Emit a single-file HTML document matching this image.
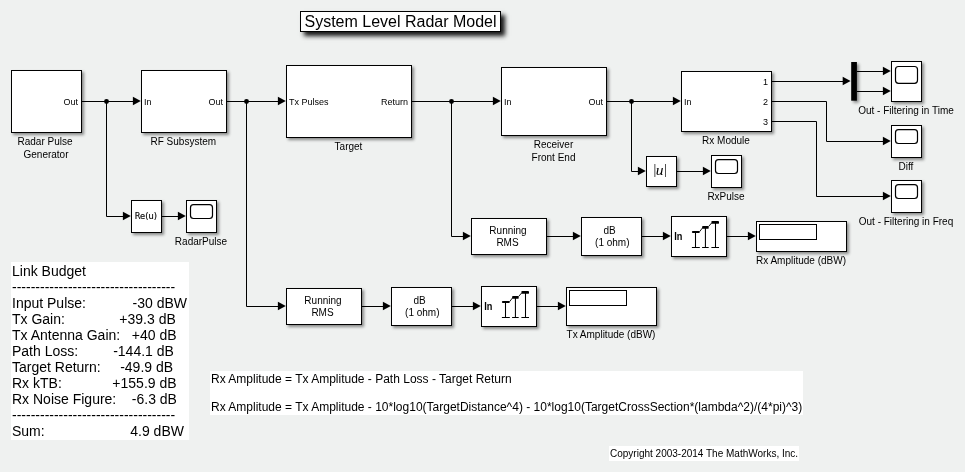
<!DOCTYPE html>
<html lang="en"><head><meta charset="utf-8"><title>System Level Radar Model</title>
<style>
html,body{margin:0;padding:0;}
body{width:965px;height:472px;background:#eff1f0;overflow:hidden;position:relative;font-family:"Liberation Sans",Arial,sans-serif;color:#000;}
svg{position:absolute;left:0;top:0;}
.b{fill:#fff;stroke:#000;stroke-width:1;}
.inner{fill:#fff;stroke:#000;stroke-width:1;}
.scr{fill:#fff;stroke:#000;stroke-width:1.2;}
.ln{fill:none;stroke:#000;stroke-width:1;}
.ah{fill:#000;stroke:none;}
.dot{fill:#000;}
.ic{fill:none;stroke:#000;stroke-width:1.05;}
.cap{fill:#000;}
.dg{fill:none;stroke:#000;stroke-width:.9;}
.ic2{fill:none;stroke:#000;stroke-width:2.3;stroke-linecap:round;}
text{font-family:"Liberation Sans",Arial,sans-serif;fill:#000;}
.lb{font-size:10px;}
.pt{font-size:9px;}
.pb{font-size:10.8px;font-weight:bold;}
.dj{font-family:"DejaVu Sans","Liberation Sans",sans-serif;font-size:8.3px;stroke:#000;stroke-width:.15px;}
.abs{font-family:"Liberation Serif",serif;font-size:15.5px;}
.bar{font-family:"Liberation Serif",serif;font-size:14px;}
#title{position:absolute;left:300px;top:11px;width:199px;height:19px;border:1px solid #000;background:#fff;box-shadow:3.5px 3.5px 4.5px 0 rgba(0,0,0,.9);font-size:16px;line-height:19px;text-align:center;color:#000;white-space:nowrap;}
#lb{position:absolute;left:11px;top:262px;width:178px;height:178px;background:#fff;font-size:14px;line-height:16px;white-space:pre;color:#000;box-sizing:border-box;padding:1px 0 0 1px;}
#eq{position:absolute;left:210px;top:371px;width:593px;height:44px;background:#fff;font-size:12px;line-height:14px;white-space:pre;box-sizing:border-box;padding:1px 0 0 1px;color:#000;}
#cp{position:absolute;left:609px;top:446px;width:190px;height:15px;background:#fff;font-size:10px;line-height:15px;white-space:nowrap;box-sizing:border-box;padding-left:1px;color:#000;}
#wrap{position:absolute;left:0;top:0;width:965px;height:472px;will-change:transform;}
</style></head><body><div id="wrap">
<svg width="965" height="472" viewBox="0 0 965 472">
<defs><filter id="sh" x="-10%" y="-10%" width="130%" height="140%"><feDropShadow dx="2" dy="2" stdDeviation="1.7" flood-color="#000" flood-opacity="0.43"/></filter></defs>
<path class="ln" d="M81.5 101.5L137.5 101.5"/>
<path class="ah" d="M140.8 101.05L132.9 96.85L132.9 105.25Z"/>
<path class="ln" d="M226.5 101.5L282.5 101.5"/>
<path class="ah" d="M285.8 101.05L277.90000000000003 96.85L277.90000000000003 105.25Z"/>
<path class="ln" d="M411.5 101.5L497.5 101.5"/>
<path class="ah" d="M500.8 101.05L492.90000000000003 96.85L492.90000000000003 105.25Z"/>
<path class="ln" d="M606.5 101.5L677.5 101.5"/>
<path class="ah" d="M680.8 101.05L672.9 96.85L672.9 105.25Z"/>
<path class="ln" d="M106.5 101.5L106.5 216.5L127.5 216.5"/>
<path class="ah" d="M130.8 216.05L122.9 211.85000000000002L122.9 220.25Z"/>
<path class="ln" d="M246.5 101.5L246.5 306.5L282.5 306.5"/>
<path class="ah" d="M285.8 306.05L277.90000000000003 301.85L277.90000000000003 310.25Z"/>
<path class="ln" d="M451.5 101.5L451.5 236.5L467.5 236.5"/>
<path class="ah" d="M470.8 236.05L462.90000000000003 231.85000000000002L462.90000000000003 240.25Z"/>
<path class="ln" d="M631.5 101.5L631.5 171.5L642.5 171.5"/>
<path class="ah" d="M645.8 171.05L637.9 166.85000000000002L637.9 175.25Z"/>
<circle class="dot" cx="106.5" cy="101.5" r="2.45"/>
<circle class="dot" cx="246.5" cy="101.5" r="2.45"/>
<circle class="dot" cx="451.5" cy="101.5" r="2.45"/>
<circle class="dot" cx="631.5" cy="101.5" r="2.45"/>
<path class="ln" d="M161.5 216.5L182.5 216.5"/>
<path class="ah" d="M185.8 216.05L177.9 211.85000000000002L177.9 220.25Z"/>
<path class="ln" d="M676.5 171.5L707.5 171.5"/>
<path class="ah" d="M710.8 171.05L702.9 166.85000000000002L702.9 175.25Z"/>
<path class="ln" d="M546.5 236.5L577.5 236.5"/>
<path class="ah" d="M580.8 236.05L572.9 231.85000000000002L572.9 240.25Z"/>
<path class="ln" d="M641.5 236.5L667.5 236.5"/>
<path class="ah" d="M670.8 236.05L662.9 231.85000000000002L662.9 240.25Z"/>
<path class="ln" d="M726.5 236.5L752.5 236.5"/>
<path class="ah" d="M755.8 236.05L747.9 231.85000000000002L747.9 240.25Z"/>
<path class="ln" d="M361.5 306.5L387.5 306.5"/>
<path class="ah" d="M390.8 306.05L382.90000000000003 301.85L382.90000000000003 310.25Z"/>
<path class="ln" d="M451.5 306.5L477.5 306.5"/>
<path class="ah" d="M480.8 306.05L472.90000000000003 301.85L472.90000000000003 310.25Z"/>
<path class="ln" d="M536.5 306.5L562.5 306.5"/>
<path class="ah" d="M565.8 306.05L557.9 301.85L557.9 310.25Z"/>
<path class="ln" d="M771.5 81.5L847.3 81.5"/>
<path class="ah" d="M850.5999999999999 81.05L842.6999999999999 76.85L842.6999999999999 85.25Z"/>
<path class="ln" d="M857 71.5L887.5 71.5"/>
<path class="ah" d="M890.8 71.05L882.9 66.85L882.9 75.25Z"/>
<path class="ln" d="M857 91.5L887.5 91.5"/>
<path class="ah" d="M890.8 91.05L882.9 86.85L882.9 95.25Z"/>
<path class="ln" d="M771.5 101.5L826.5 101.5L826.5 141.5L887.5 141.5"/>
<path class="ah" d="M890.8 141.05L882.9 136.85000000000002L882.9 145.25Z"/>
<path class="ln" d="M771.5 121.5L816.5 121.5L816.5 196.5L887.5 196.5"/>
<path class="ah" d="M890.8 196.05L882.9 191.85000000000002L882.9 200.25Z"/>
<g filter="url(#sh)">
<rect class="b" x="11.5" y="70.5" width="70.0" height="62.0"/>
<rect class="b" x="141.5" y="70.5" width="85.0" height="62.0"/>
<rect class="b" x="286.5" y="65.5" width="125.0" height="72.0"/>
<rect class="b" x="501.5" y="67.5" width="105.0" height="68.0"/>
<rect class="b" x="681.5" y="71.5" width="90.0" height="60.0"/>
<rect class="b" x="131.5" y="200.5" width="30.0" height="32.0"/>
<rect class="b" x="186.5" y="200.5" width="30.0" height="32.0"/>
<rect class="b" x="646.5" y="156.5" width="30.0" height="30.0"/>
<rect class="b" x="711.5" y="155.5" width="30.0" height="32.0"/>
<rect class="b" x="891.5" y="61.5" width="30.0" height="40.0"/>
<rect class="b" x="891.5" y="125.5" width="30.0" height="32.0"/>
<rect class="b" x="891.5" y="180.5" width="30.0" height="32.0"/>
<rect class="b" x="471.5" y="218.5" width="75.0" height="36.0"/>
<rect class="b" x="581.5" y="217.5" width="60.0" height="38.0"/>
<rect class="b" x="671.5" y="216.5" width="55.0" height="40.0"/>
<rect class="b" x="756.5" y="221.5" width="90.0" height="30.0"/>
<rect class="b" x="286.5" y="288.5" width="75.0" height="36.0"/>
<rect class="b" x="391.5" y="287.5" width="60.0" height="38.0"/>
<rect class="b" x="481.5" y="286.5" width="55.0" height="40.0"/>
<rect class="b" x="566.5" y="287.5" width="90.0" height="38.0"/>
<rect x="851.2" y="62" width="5.7" height="38.7" fill="#000"/>
</g>
<rect class="b" x="186.5" y="200.5" width="30.0" height="32.0"/>
<rect class="scr" x="190.5" y="204.70" width="22.0" height="13.8" rx="3" ry="3"/>
<rect class="b" x="711.5" y="155.5" width="30.0" height="32.0"/>
<rect class="scr" x="715.5" y="159.70" width="22.0" height="13.8" rx="3" ry="3"/>
<rect class="b" x="891.5" y="61.5" width="30.0" height="40.0"/>
<rect class="scr" x="895.5" y="66.50" width="22.0" height="16.8" rx="3" ry="3"/>
<rect class="b" x="891.5" y="125.5" width="30.0" height="32.0"/>
<rect class="scr" x="895.5" y="129.70" width="22.0" height="13.8" rx="3" ry="3"/>
<rect class="b" x="891.5" y="180.5" width="30.0" height="32.0"/>
<rect class="scr" x="895.5" y="184.70" width="22.0" height="13.8" rx="3" ry="3"/>
<rect class="b" x="671.5" y="216.5" width="55.0" height="40.0"/>
<text class="pb" transform="translate(674.20 239.90) scale(.85 1)" letter-spacing=".05">In</text>
<path class="ic" d="M695.50 232.05V247.5M691.90 247.5H699.80"/>
<rect class="cap" x="691.90" y="231.10" width="7.90" height="1.90" rx="0.9"/>
<path class="ic" d="M705.42 227.43V247.5M702.10 247.5H708.70"/>
<rect class="cap" x="702.10" y="226.05" width="6.60" height="2.75" rx="0.9"/>
<path class="ic" d="M715.50 222.38V247.5M711.40 247.5H719.00"/>
<rect class="cap" x="711.40" y="220.95" width="7.60" height="2.85" rx="0.9"/>
<path class="dg" d="M699.60 231.70L702.30 228.10M708.50 226.60L711.60 223.00"/>
<rect class="b" x="481.5" y="286.5" width="55.0" height="40.0"/>
<text class="pb" transform="translate(484.20 309.90) scale(.85 1)" letter-spacing=".05">In</text>
<path class="ic" d="M505.50 302.05V317.5M501.90 317.5H509.80"/>
<rect class="cap" x="501.90" y="301.10" width="7.90" height="1.90" rx="0.9"/>
<path class="ic" d="M515.42 297.43V317.5M512.10 317.5H518.70"/>
<rect class="cap" x="512.10" y="296.05" width="6.60" height="2.75" rx="0.9"/>
<path class="ic" d="M525.50 292.38V317.5M521.40 317.5H529.00"/>
<rect class="cap" x="521.40" y="290.95" width="7.60" height="2.85" rx="0.9"/>
<path class="dg" d="M509.60 301.70L512.30 298.10M518.50 296.60L521.60 293.00"/>
<rect class="b" x="756.5" y="221.5" width="90.0" height="30.0"/>
<rect class="inner" x="759.5" y="224.5" width="57" height="15"/>
<rect class="b" x="566.5" y="287.5" width="90.0" height="38.0"/>
<rect class="inner" x="569.5" y="290.5" width="57" height="15"/>
<text class="pt" x="78" y="105" text-anchor="end">Out</text>
<text class="pt" x="144" y="105" text-anchor="start">In</text>
<text class="pt" x="223" y="105" text-anchor="end">Out</text>
<text class="pt" x="289" y="105" text-anchor="start">Tx Pulses</text>
<text class="pt" x="408" y="105" text-anchor="end">Return</text>
<text class="pt" x="504" y="105" text-anchor="start">In</text>
<text class="pt" x="603" y="105" text-anchor="end">Out</text>
<text class="pt" x="684" y="105" text-anchor="start">In</text>
<text class="pt" x="768" y="85" text-anchor="end">1</text>
<text class="pt" x="768" y="105" text-anchor="end">2</text>
<text class="pt" x="768" y="125" text-anchor="end">3</text>
<text class="dj" x="145.8" y="218.6" text-anchor="middle">Re(u)</text>
<text class="abs" x="659.7" y="175" text-anchor="middle" font-style="italic">u</text>
<text class="bar" x="654.9" y="174" text-anchor="middle">|</text><text class="bar" x="665.4" y="174" text-anchor="middle">|</text>
<text class="lb" x="508" y="234" text-anchor="middle">Running</text>
<text class="lb" x="507.5" y="246" text-anchor="middle">RMS</text>
<text class="lb" x="609.6" y="234" text-anchor="middle">dB</text>
<text class="lb" x="612.3" y="246" text-anchor="middle">(1 ohm)</text>
<text class="lb" x="323" y="304" text-anchor="middle">Running</text>
<text class="lb" x="322.5" y="316" text-anchor="middle">RMS</text>
<text class="lb" x="419.6" y="304" text-anchor="middle">dB</text>
<text class="lb" x="422.3" y="316" text-anchor="middle">(1 ohm)</text>
<text class="lb" x="45" y="145" text-anchor="middle">Radar Pulse</text>
<text class="lb" x="46" y="158" text-anchor="middle">Generator</text>
<text class="lb" x="183.3" y="145" text-anchor="middle">RF Subsystem</text>
<text class="lb" x="348.5" y="150" text-anchor="middle">Target</text>
<text class="lb" x="553.5" y="148" text-anchor="middle">Receiver</text>
<text class="lb" x="553.5" y="161" text-anchor="middle">Front End</text>
<text class="lb" x="726" y="144" text-anchor="middle">Rx Module</text>
<text class="lb" x="201" y="245" text-anchor="middle">RadarPulse</text>
<text class="lb" x="726" y="199.5" text-anchor="middle">RxPulse</text>
<text class="lb" x="906" y="114" text-anchor="middle">Out - Filtering in Time</text>
<text class="lb" x="906" y="170" text-anchor="middle">Diff</text>
<text class="lb" x="906" y="225" text-anchor="middle">Out - Filtering in Freq</text>
<text class="lb" x="801" y="264" text-anchor="middle">Rx Amplitude (dBW)</text>
<text class="lb" x="611" y="338" text-anchor="middle">Tx Amplitude (dBW)</text>
</svg>
<div id="title">System Level Radar Model</div>
<div id="lb">Link Budget
-----------------------------------
Input Pulse:            -30 dBW
Tx Gain:              +39.3 dB
Tx Antenna Gain:   +40 dB
Path Loss:         -144.1 dB
Target Return:     -49.9 dB
Rx kTB:             +155.9 dB
Rx Noise Figure:    -6.3 dB
-----------------------------------
Sum:                      4.9 dBW</div>
<div id="eq">Rx Amplitude = Tx Amplitude - Path Loss - Target Return

Rx Amplitude = Tx Amplitude - 10*log10(TargetDistance^4) - 10*log10(TargetCrossSection*(lambda^2)/(4*pi)^3)</div>
<div id="cp">Copyright 2003-2014 The MathWorks, Inc.</div>
</div></body></html>
